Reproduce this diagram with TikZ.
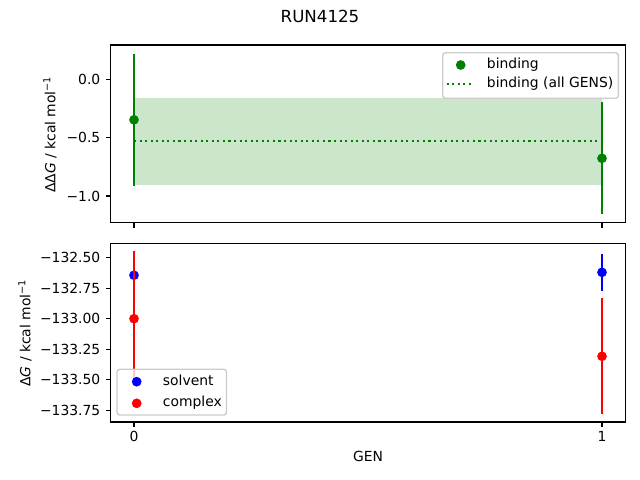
\documentclass[tikz,border=0pt]{standalone}
\usepackage{fontspec}
\setmainfont{DejaVu Sans}
\usetikzlibrary{positioning}
\definecolor{mplgreen}{RGB}{0,128,0}
\definecolor{mplblue}{RGB}{0,0,255}
\definecolor{mplred}{RGB}{255,0,0}
\definecolor{framegray}{RGB}{204,204,204}
\tikzset{every node/.style={font=\fontsize{10}{12}\selectfont},
	dot/.style={circle, fill=#1, inner sep=0pt, minimum size=7pt},
	errbar/.style={draw=#1, line width=1.5pt},
	spine/.style={draw=black, line width=0.8pt},
	tickmark/.style={line width=0.8pt},
	ticklabel/.style={inner sep=0pt},
	legframe/.style={draw=framegray, fill=white, fill opacity=0.8, rounded corners=2pt, line width=1pt},
	legtext/.style={anchor=west, inner sep=0pt, text height=7.5pt, text depth=2.5pt}}

\begin{document}
\begin{tikzpicture}[x=0.72pt, y=-0.72pt]
    \useasboundingbox (0,0) rectangle (640,480);
    \node (title) at (320,16) {\fontsize{12}{14}\selectfont RUN4125};

    % top axes: binding free energy
    \begin{scope}[shift={(134,79.3)}, xscale=468, yscale=-116.7]
        \fill[mplgreen, opacity=0.2] (0,-0.163) rectangle (1,-0.908);
        \draw[mplgreen, line width=1.5pt, dash pattern=on 1.5pt off 2.5pt] (0,-0.529) -- (1,-0.529);
        \draw[errbar=mplgreen] (0,0.219) -- (0,-0.913);
        \draw[errbar=mplgreen] (1,-0.197) -- (1,-1.157);
        \node[dot=mplgreen] (b0) at (0,-0.347) {};
        \node[dot=mplgreen] (b1) at (1,-0.677) {};
    \end{scope}
    \draw[spine] (110.6,45) rectangle (625.4,222.7);
    \foreach \py/\lab in {79.3/0.0, 137.65/−0.5, 196/−1.0}
        \draw[tickmark] (110.6,\py) -- ++(-4.86,0) node[ticklabel, anchor=east, left=3.5pt] {\lab};
    \foreach \px in {134, 602}
        \draw[tickmark] (\px,222.7) -- ++(0,4.86);
    \node[rotate=90] (ylab1) at (50,134.5) {ΔΔ\textit{G} / kcal mol\textsuperscript{−1}};

    % top legend
    \draw[legframe] (442.7,52.7) rectangle (618.3,98.3);
    \node[dot=mplgreen] (kb) at (460.7,65) {};
    \node[legtext, right=18.7pt of kb.center] (lb) {binding};
    \coordinate (ka1) at (446.7,84.3);
    \coordinate (ka2) at (474.3,84.3);
    \draw[mplgreen, line width=1.5pt, dash pattern=on 1.5pt off 2.5pt] (ka1) -- (ka2);
    \node[legtext, right=8.9pt of ka2] (la) {binding (all GENS)};

    % bottom axes: solvent and complex legs (values relative to -133)
    \begin{scope}[shift={(134,318.7)}, xscale=468, yscale=-122.4]
        \node[dot=mplblue] (s0) at (0,0.355) {};
        \node[dot=mplblue] (s1) at (1,0.379) {};
        \draw[errbar=mplblue] (0,0.555) -- (0,0.155);
        \draw[errbar=mplblue] (1,0.529) -- (1,0.229);
        \draw[errbar=mplred] (0,0.553) -- (0,-0.553);
        \draw[errbar=mplred] (1,0.167) -- (1,-0.779);
        \node[dot=mplred] (c0) at (0,0) {};
        \node[dot=mplred] (c1) at (1,-0.307) {};
    \end{scope}
    \draw[spine] (110.6,243.3) rectangle (625.4,422);
    \foreach \py/\lab in {257.5/−132.50, 288.1/−132.75, 318.7/−133.00, 349.3/−133.25, 379.9/−133.50, 410.5/−133.75}
        \draw[tickmark] (110.6,\py) -- ++(-4.86,0) node[ticklabel, anchor=east, left=3.5pt] {\lab};
    \foreach \px/\lab in {134/0, 602/1} {
        \draw[tickmark] (\px,422) -- ++(0,4.86);
        \node[ticklabel, anchor=base] at (\px,441.7) {\lab};
    }
    \node[rotate=90] (ylab2) at (25,333) {Δ\textit{G} / kcal mol\textsuperscript{−1}};
    \node[anchor=base] (xlab) at (368,461) {GEN};

    % bottom legend
    \draw[legframe] (117,369.3) rectangle (226.5,415);
    \node[dot=mplblue] (ks) at (136.7,381.7) {};
    \node[legtext, right=18.7pt of ks.center] (ls) {solvent};
    \node[dot=mplred] (kc) at (136.7,403.3) {};
    \node[legtext, right=18.7pt of kc.center] (lc) {complex};
\end{tikzpicture}
\end{document}
